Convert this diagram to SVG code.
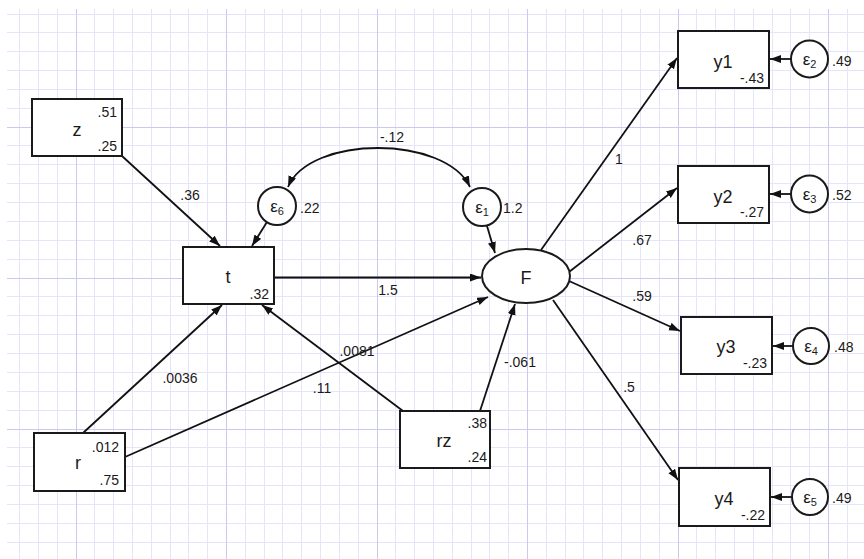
<svg xmlns="http://www.w3.org/2000/svg" width="864" height="559" viewBox="0 0 864 559">
<style>
.minor{stroke:#e4e4fa;stroke-width:1;fill:none}
.major{stroke:#c9c9f4;stroke-width:1;fill:none}
.box{fill:#fff;stroke:#1a1a1a;stroke-width:2}
.conn{stroke:#111;stroke-width:1.8;fill:none}
text{font-family:"Liberation Sans",Arial,sans-serif;fill:#1a1a1a}
.name{font-size:18px;text-anchor:middle}
.val{font-size:14px}
.end{text-anchor:end}
.mid{text-anchor:middle}
.eps{font-size:17px;text-anchor:middle}
</style>
<defs>
<marker id="ah" markerUnits="userSpaceOnUse" markerWidth="12" markerHeight="9" refX="11" refY="4" orient="auto-start-reverse">
<path d="M0,0 L11,4 L0,8 z" fill="#111"/>
</marker>
</defs>
<rect x="0" y="0" width="864" height="559" fill="#fff"/>
<g id="grid">
<path class="minor" d="M19.5 9V559M38.5 9V559M57.5 9V559M94.5 9V559M113.5 9V559M132.5 9V559M151.5 9V559M170.5 9V559M188.5 9V559M207.5 9V559M245.5 9V559M264.5 9V559M282.5 9V559M301.5 9V559M320.5 9V559M339.5 9V559M358.5 9V559M395.5 9V559M414.5 9V559M433.5 9V559M452.5 9V559M471.5 9V559M489.5 9V559M508.5 9V559M546.5 9V559M565.5 9V559M583.5 9V559M602.5 9V559M621.5 9V559M640.5 9V559M659.5 9V559M696.5 9V559M715.5 9V559M734.5 9V559M753.5 9V559M772.5 9V559M790.5 9V559M809.5 9V559M847.5 9V559"/>
<path class="minor" d="M7 14.5H864M7 32.5H864M7 51.5H864M7 70.5H864M7 89.5H864M7 108.5H864M7 145.5H864M7 164.5H864M7 183.5H864M7 202.5H864M7 221.5H864M7 240.5H864M7 259.5H864M7 296.5H864M7 315.5H864M7 334.5H864M7 353.5H864M7 372.5H864M7 391.5H864M7 410.5H864M7 447.5H864M7 466.5H864M7 485.5H864M7 504.5H864M7 523.5H864M7 542.5H864"/>
<path class="major" d="M76.5 9V559M226.5 9V559M377.5 9V559M527.5 9V559M678.5 9V559M828.5 9V559M7 127.5H864M7 278.5H864M7 429.5H864"/>
</g>
<g id="connectors">
<path class="conn" marker-end="url(#ah)" d="M122,156 L220,246"/>
<path class="conn" marker-end="url(#ah)" d="M267,222 L252,246"/>
<path class="conn" marker-end="url(#ah)" d="M274,277.5 L481,277.5"/>
<path class="conn" marker-end="url(#ah)" d="M487,226 L495,253"/>
<path class="conn" marker-end="url(#ah)" d="M83,433 L222,305"/>
<path class="conn" marker-end="url(#ah)" d="M403,411 L262,305"/>
<path class="conn" marker-end="url(#ah)" d="M125,457 L488,297"/>
<path class="conn" marker-end="url(#ah)" d="M480,411 L515,304"/>
<path class="conn" marker-end="url(#ah)" d="M541,250 L677,58"/>
<path class="conn" marker-end="url(#ah)" d="M569,272 L677,188"/>
<path class="conn" marker-end="url(#ah)" d="M569,281 L680,331"/>
<path class="conn" marker-end="url(#ah)" d="M553,300 L678,480"/>
<path class="conn" marker-end="url(#ah)" d="M791,59 L770,59"/>
<path class="conn" marker-end="url(#ah)" d="M791,194 L770,194"/>
<path class="conn" marker-end="url(#ah)" d="M793,346 L773,346"/>
<path class="conn" marker-end="url(#ah)" d="M792,497 L771,497"/>
<path class="conn" marker-start="url(#ah)" marker-end="url(#ah)" d="M288,187 C310,135 445,135 470,187"/>
<text class="val mid" x="190" y="200">.36</text>
<text class="val mid" x="392" y="142">-.12</text>
<text class="val mid" x="388" y="295">1.5</text>
<text class="val mid" x="180" y="383">.0036</text>
<text class="val mid" x="357" y="356">.0081</text>
<text class="val mid" x="322" y="393">.11</text>
<text class="val mid" x="520" y="367">-.061</text>
<text class="val mid" x="619" y="164">1</text>
<text class="val mid" x="642" y="245">.67</text>
<text class="val mid" x="642" y="301">.59</text>
<text class="val mid" x="629" y="392">.5</text>
</g>
<g id="z">
<rect class="box" x="32" y="99" width="90" height="57"/>
<text class="name" x="77" y="136">z</text>
<text class="val end" x="117" y="117">.51</text>
<text class="val end" x="117" y="151">.25</text>
</g>
<g id="t">
<rect class="box" x="183" y="247" width="91" height="57"/>
<text class="name" x="228" y="283">t</text>
<text class="val end" x="269" y="299">.32</text>
</g>
<g id="r">
<rect class="box" x="34" y="433" width="91" height="58"/>
<text class="name" x="78" y="469">r</text>
<text class="val end" x="119" y="452">.012</text>
<text class="val end" x="119" y="485">.75</text>
</g>
<g id="rz">
<rect class="box" x="400" y="411" width="90" height="57"/>
<text class="name" x="444" y="447">rz</text>
<text class="val end" x="487" y="428">.38</text>
<text class="val end" x="487" y="462">.24</text>
</g>
<g id="F">
<ellipse class="box" cx="526" cy="276" rx="44" ry="27"/>
<text class="name" x="526" y="284">F</text>
</g>
<g id="e1">
<circle class="box" cx="482" cy="207" r="19"/>
<text class="eps" x="482" y="213">ε<tspan font-size="11" dy="3">1</tspan></text>
<text class="val" x="503" y="213">1.2</text>
</g>
<g id="e6">
<circle class="box" cx="277" cy="206" r="19"/>
<text class="eps" x="277" y="212">ε<tspan font-size="11" dy="3">6</tspan></text>
<text class="val" x="300" y="213">.22</text>
</g>
<g id="y1">
<rect class="box" x="678" y="31" width="91" height="57"/>
<text class="name" x="723" y="68">y1</text>
<text class="val end" x="764" y="83">-.43</text>
</g>
<g id="y2">
<rect class="box" x="678" y="166" width="91" height="57"/>
<text class="name" x="723" y="203">y2</text>
<text class="val end" x="764" y="217">-.27</text>
</g>
<g id="y3">
<rect class="box" x="681" y="317" width="91" height="57"/>
<text class="name" x="726" y="353">y3</text>
<text class="val end" x="767" y="368">-.23</text>
</g>
<g id="y4">
<rect class="box" x="679" y="468" width="91" height="58"/>
<text class="name" x="724" y="505">y4</text>
<text class="val end" x="765" y="520">-.22</text>
</g>
<g id="e2">
<circle class="box" cx="809.5" cy="59" r="18.5"/>
<text class="eps" x="809.5" y="65">ε<tspan font-size="11" dy="3">2</tspan></text>
<text class="val" x="832" y="66">.49</text>
</g>
<g id="e3">
<circle class="box" cx="809.5" cy="194" r="18.5"/>
<text class="eps" x="809.5" y="200">ε<tspan font-size="11" dy="3">3</tspan></text>
<text class="val" x="832" y="200">.52</text>
</g>
<g id="e4">
<circle class="box" cx="811" cy="346" r="18"/>
<text class="eps" x="811" y="352">ε<tspan font-size="11" dy="3">4</tspan></text>
<text class="val" x="834" y="352">.48</text>
</g>
<g id="e5">
<circle class="box" cx="810" cy="497" r="18"/>
<text class="eps" x="810" y="503">ε<tspan font-size="11" dy="3">5</tspan></text>
<text class="val" x="832" y="503">.49</text>
</g>
</svg>
